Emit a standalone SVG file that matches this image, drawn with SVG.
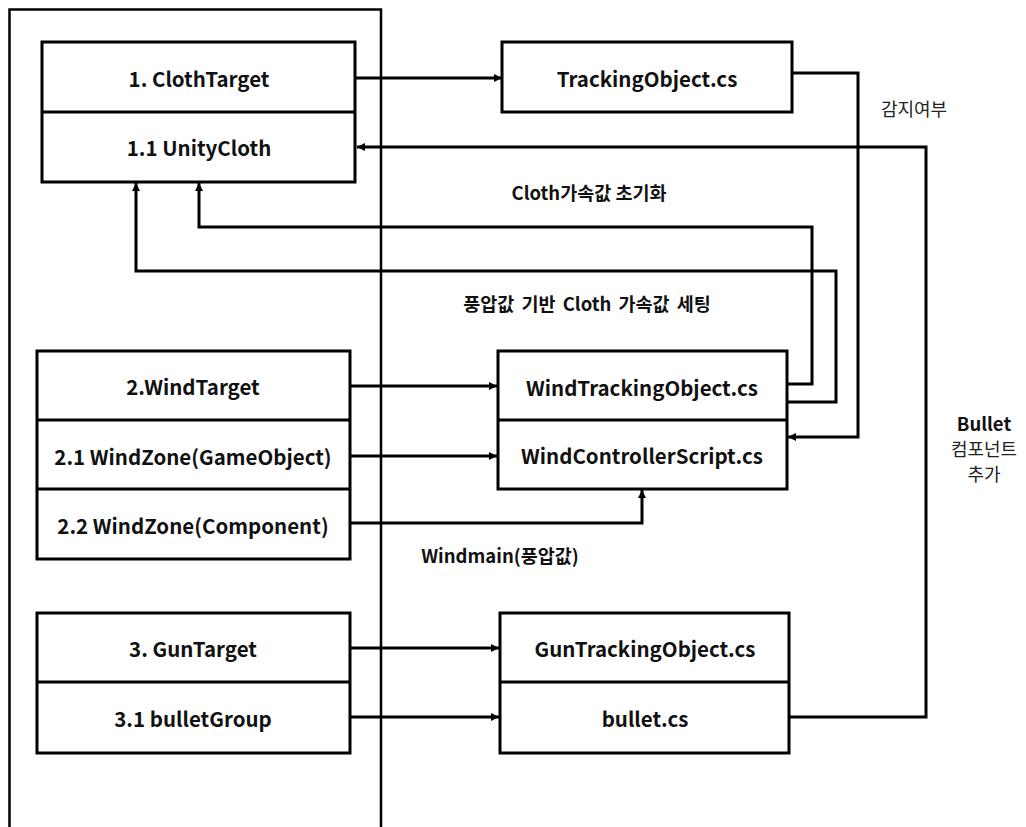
<svg xmlns="http://www.w3.org/2000/svg" width="1026" height="827" viewBox="0 0 1026 827">
<style>
  .box { fill: #fff; stroke: #000; stroke-width: 3; }
  .div { stroke: #000; stroke-width: 3; }
  .t { font-family: "Noto Sans CJK KR", "Noto Sans", sans-serif; font-weight: 700; font-size: 20.5px; fill: #111; text-anchor: middle; dominant-baseline: central; }
  .lb { font-family: "Noto Sans CJK KR", "Noto Sans", sans-serif; font-weight: 700; font-size: 18.5px; fill: #111; text-anchor: middle; dominant-baseline: central; }
  .ln { font-family: "Noto Sans CJK KR", "Noto Sans", sans-serif; font-weight: 400; font-size: 18px; fill: #222; text-anchor: middle; dominant-baseline: central; }
  .c { fill: none; stroke: #000; stroke-width: 3; }
  .ca { fill: none; stroke: #000; stroke-width: 3; marker-end: url(#ah); }
</style>
<defs>
  <marker id="ah" viewBox="0 0 10 10" refX="10" refY="5" markerWidth="9" markerHeight="8" markerUnits="userSpaceOnUse" orient="auto">
    <path d="M0,0 L10,5 L0,10 z" fill="#000"/>
  </marker>
</defs>
<rect width="1026" height="827" fill="#fff"/>
<path id="container" d="M9.5 830 V9.5 H381 V830" fill="none" stroke="#000" stroke-width="2.5"/>

<g id="connectors">
  <path class="ca" d="M355 78 H502"/>
  <path class="ca" d="M792 73 H858 V437 H788"/>
  <path class="ca" d="M789 717 H926 V147 H357"/>
  <path class="ca" d="M787 384 H812 V227 H199 V183"/>
  <path class="ca" d="M787 402 H836 V271 H136 V183"/>
  <path class="ca" d="M350 386 H497"/>
  <path class="ca" d="M350 456 H497"/>
  <path class="ca" d="M350 523 H642 V490"/>
  <path class="ca" d="M350 648 H499"/>
  <path class="ca" d="M350 717 H499"/>
</g>

<g id="labels">
  <text class="ln" x="914" y="108">감지여부</text>
  <text class="lb" x="589" y="192">Cloth가속값 초기화</text>
  <text class="lb" x="587" y="303" word-spacing="3">풍압값 기반 Cloth 가속값 세팅</text>
  <text class="lb" x="500" y="555">Windmain(풍압값)</text>
  <text class="lb" x="984" y="423">Bullet</text>
  <text class="ln" x="984" y="448">컴포넌트</text>
  <text class="ln" x="984" y="473">추가</text>
</g>

<g id="clothTarget">
  <rect class="box" x="42" y="42" width="313" height="140"/>
  <line class="div" x1="42" y1="112" x2="355" y2="112"/>
  <text class="t" x="199" y="78">1. ClothTarget</text>
  <text class="t" x="199" y="147">1.1 UnityCloth</text>
</g>

<g id="trackingObject">
  <rect class="box" x="502" y="42" width="290" height="70"/>
  <text class="t" x="647" y="78">TrackingObject.cs</text>
</g>

<g id="windTarget">
  <rect class="box" x="37" y="351" width="313" height="208"/>
  <line class="div" x1="37" y1="420" x2="350" y2="420"/>
  <line class="div" x1="37" y1="489" x2="350" y2="489"/>
  <text class="t" x="193" y="386">2.WindTarget</text>
  <text class="t" x="193" y="456">2.1 WindZone(GameObject)</text>
  <text class="t" x="193" y="525">2.2 WindZone(Component)</text>
</g>

<g id="windScripts">
  <rect class="box" x="498" y="351" width="289" height="138"/>
  <line class="div" x1="498" y1="420" x2="787" y2="420"/>
  <text class="t" x="642" y="387">WindTrackingObject.cs</text>
  <text class="t" x="642" y="455">WindControllerScript.cs</text>
</g>

<g id="gunTarget">
  <rect class="box" x="37" y="613" width="313" height="140"/>
  <line class="div" x1="37" y1="682" x2="350" y2="682"/>
  <text class="t" x="193" y="648">3. GunTarget</text>
  <text class="t" x="193" y="718">3.1 bulletGroup</text>
</g>

<g id="gunScripts">
  <rect class="box" x="500" y="613" width="289" height="140"/>
  <line class="div" x1="500" y1="682" x2="789" y2="682"/>
  <text class="t" x="645" y="648">GunTrackingObject.cs</text>
  <text class="t" x="645" y="718">bullet.cs</text>
</g>
</svg>
